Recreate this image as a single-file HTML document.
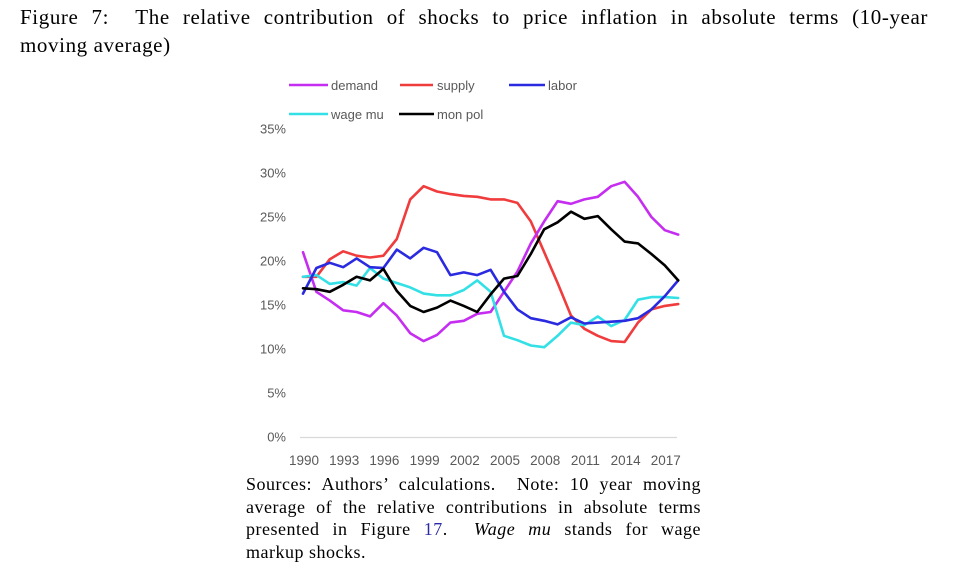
<!DOCTYPE html>
<html><head><meta charset="utf-8"><style>
body{margin:0;width:958px;height:570px;background:#fff;position:relative;overflow:hidden}
.ln{position:absolute;font-family:"Liberation Serif",serif;color:#000;text-align:justify;text-align-last:justify;white-space:nowrap}
.ln.l{text-align-last:left}
.cap{left:20px;width:908px;font-size:21px;line-height:28px;letter-spacing:0.6px}
.src{left:246px;width:455px;font-size:18px;line-height:22px;letter-spacing:0.5px}
svg{position:absolute;left:0;top:0}
svg text{font-family:"Liberation Sans",sans-serif}
</style></head><body>
<div>
<div class="ln cap" style="top:3px">Figure 7: &nbsp;The relative contribution of shocks to price inflation in absolute terms (10-year</div>
<div class="ln cap l" style="top:31px">moving average)</div>
</div>
<svg id="chart" width="958" height="570"></svg>
<div>
<div class="ln src" style="top:473px">Sources: Authors’ calculations. &nbsp;Note: 10 year moving</div>
<div class="ln src" style="top:496px">average of the relative contributions in absolute terms</div>
<div class="ln src" style="top:518px">presented in Figure <span style="color:#2a2aa8">17</span>. &nbsp;<i>Wage mu</i> stands for wage</div>
<div class="ln src l" style="top:541px">markup shocks.</div>
</div>
<script>
const years=[1990,1991,1992,1993,1994,1995,1996,1997,1998,1999,2000,2001,2002,2003,2004,2005,2006,2007,2008,2009,2010,2011,2012,2013,2014,2015,2016,2017,2018];
const demand=[21,16.5,15.5,14.4,14.2,13.7,15.2,13.8,11.8,10.9,11.6,13,13.2,14,14.2,16.5,18.8,22,24.5,26.8,26.5,27,27.3,28.5,29,27.3,25,23.5,23];
const supply=[18.2,18.2,20.2,21.1,20.6,20.4,20.6,22.5,27,28.5,27.9,27.6,27.4,27.3,27,27,26.6,24.5,21,17.5,13.8,12.3,11.5,10.9,10.8,13,14.5,14.9,15.1];
const labor=[16.3,19.2,19.8,19.3,20.3,19.3,19.2,21.3,20.3,21.5,21,18.4,18.7,18.4,19,16.5,14.5,13.5,13.2,12.8,13.6,12.9,13,13.1,13.2,13.5,14.5,16,17.8];
const wageMu=[18.2,18.4,17.4,17.6,17.2,19.2,18,17.5,17,16.3,16.1,16.1,16.7,17.8,16.5,11.5,11,10.4,10.2,11.5,13,12.7,13.7,12.6,13.3,15.6,15.9,15.9,15.8];
const monPol=[16.9,16.8,16.5,17.3,18.2,17.8,19.1,16.6,14.9,14.2,14.7,15.5,14.9,14.2,16.2,18,18.3,20.8,23.6,24.4,25.6,24.8,25.1,23.6,22.2,22,20.8,19.5,17.8];
const yTicks=[0,5,10,15,20,25,30,35];
const xTicks=[1990,1993,1996,1999,2002,2005,2008,2011,2014,2017];
const seriesNames=["demand","supply","labor","wage mu","mon pol"];
const NS="http://www.w3.org/2000/svg";
const svg=document.getElementById('chart');
const xs=y=>303+(y-1990)*13.4;
const ys=v=>437-v*8.8;
function mk(t,a){const e=document.createElementNS(NS,t);for(const k in a)e.setAttribute(k,a[k]);svg.appendChild(e);return e;}
yTicks.forEach(v=>{const t=mk('text',{x:286,y:ys(v)+4.5,'text-anchor':'end','font-size':13,fill:'#595959'});t.textContent=v+'%';

});
xTicks.forEach(v=>{const t=mk('text',{x:xs(v)+1,y:465,'text-anchor':'middle','font-size':13.5,fill:'#595959'});t.textContent=v;

});
const ax=mk('line',{x1:300,x2:677,y1:437.5,y2:437.5,stroke:'#d9d9d9','stroke-width':1.2});


const data=[demand,supply,labor,wageMu,monPol];
const cols=['#c52ef0','#f03c3c','#2a2ae0','#33e0e6','#000000'];
const ids=['demand','supply','labor','wage-mu','mon-pol'];
[1,0,3,2,4].forEach(i=>{
 const d=data[i].map((v,j)=>(j?'L':'M')+xs(years[j]).toFixed(1)+','+ys(v).toFixed(1)).join(' ');
 const p=mk('path',{d:d,fill:'none',stroke:cols[i],'stroke-width':2.6,'stroke-linejoin':'round','stroke-linecap':'round'});
 
 
});
const leg=[[289,328,331,85],[400,433,437,85],[509,545,548,85],[289,328,331,114],[399,434,437,114]];
leg.forEach((l,i)=>{
 const g=document.createElementNS(NS,'g');svg.appendChild(g);
 
 
 const ln=document.createElementNS(NS,'line');
 [['x1',l[0]],['x2',l[1]],['y1',l[3]],['y2',l[3]],['stroke',cols[i]],['stroke-width',2.6]].forEach(a=>ln.setAttribute(a[0],a[1]));g.appendChild(ln);
 const t=document.createElementNS(NS,'text');
 [['x',l[2]],['y',l[3]+5],['font-size',13],['fill','#595959']].forEach(a=>t.setAttribute(a[0],a[1]));
 t.textContent=seriesNames[i];g.appendChild(t);
});
</script>
</body></html>
